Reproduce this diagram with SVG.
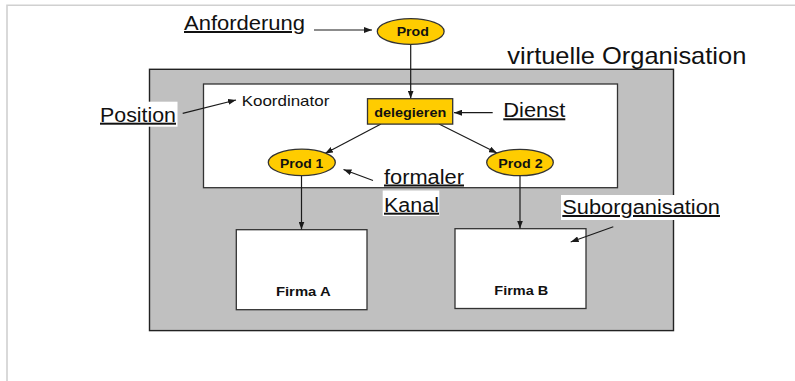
<svg xmlns="http://www.w3.org/2000/svg" width="795" height="381" viewBox="0 0 795 381">
<defs>
<marker id="ah" viewBox="0 0 8 6" refX="8" refY="3" markerWidth="8" markerHeight="6" orient="auto" markerUnits="userSpaceOnUse">
<path d="M0,0 L8,3 L0,6 z" fill="#1a1a1a"/>
</marker>
<style>
.lbl{font-family:"Liberation Sans",Arial,sans-serif;font-size:20px;fill:#111;text-decoration:underline}
.bold{font-family:"Liberation Sans",Arial,sans-serif;font-size:13px;font-weight:bold;fill:#111;text-anchor:middle}
.plain{font-family:"Liberation Sans",Arial,sans-serif;fill:#111}
.yel{fill:#FFCC00;stroke:#333;stroke-width:1.3}
.box{fill:#fff;stroke:#333;stroke-width:1.3}
.conn line{stroke:#1a1a1a;stroke-width:1.2;marker-end:url(#ah)}
.bg{fill:#fff}
</style>
</defs>
<rect width="795" height="381" fill="#fff"/>
<path d="M7,381 V5.3 H795" fill="none" stroke="#d0d0d0" stroke-width="1.6"/>

<g id="virtuelle-organisation">
<rect x="149.5" y="69.3" width="524" height="261.3" fill="#C0C0C0" stroke="#222" stroke-width="1.4"/>
<text class="plain" x="507.3" y="64" font-size="24" textLength="239" lengthAdjust="spacingAndGlyphs">virtuelle Organisation</text>
</g>

<g id="koordinator">
<rect class="box" x="203.5" y="84" width="414" height="103.7"/>
<text class="plain" x="241.7" y="106" font-size="15" textLength="87.6" lengthAdjust="spacingAndGlyphs">Koordinator</text>
</g>

<g id="firma-a">
<rect class="box" x="236.3" y="229.7" width="130.7" height="80"/>
<text class="bold" x="303.3" y="296" textLength="54.7" lengthAdjust="spacingAndGlyphs">Firma A</text>
</g>

<g id="firma-b">
<rect class="box" x="455" y="228.7" width="131" height="79.8"/>
<text class="bold" x="521.3" y="295" textLength="54" lengthAdjust="spacingAndGlyphs">Firma B</text>
</g>

<g id="connectors" class="conn">
<line x1="314" y1="30" x2="372" y2="30"/>
<line x1="410.7" y1="44.5" x2="410.7" y2="98.5"/>
<line x1="182.7" y1="113.3" x2="236" y2="100"/>
<line x1="492.7" y1="112.7" x2="454" y2="112.7"/>
<line x1="381" y1="124" x2="325" y2="153.5"/>
<line x1="439" y1="124" x2="497" y2="153"/>
<line x1="373" y1="180.5" x2="343.5" y2="169.5"/>
<line x1="301.5" y1="175.5" x2="301.5" y2="229.5"/>
<line x1="520" y1="175.5" x2="520" y2="228.5"/>
<line x1="613.3" y1="226.7" x2="570.7" y2="242"/>
</g>

<g id="prod">
<ellipse class="yel" cx="410.7" cy="31.5" rx="33.4" ry="12.8"/>
<text class="bold" x="412.8" y="35.7" textLength="32.3" lengthAdjust="spacingAndGlyphs">Prod</text>
</g>

<g id="delegieren">
<rect class="yel" x="367.5" y="98.7" width="85.2" height="25.4"/>
<text class="bold" x="410.2" y="116.5" textLength="72" lengthAdjust="spacingAndGlyphs">delegieren</text>
</g>

<g id="prod1">
<ellipse class="yel" cx="301.8" cy="162.4" rx="33.5" ry="13.2"/>
<text class="bold" x="301.7" y="167.5" textLength="43.3" lengthAdjust="spacingAndGlyphs">Prod 1</text>
</g>

<g id="prod2">
<ellipse class="yel" cx="520" cy="162.5" rx="33.3" ry="13.2"/>
<text class="bold" x="520.5" y="167.5" textLength="44.4" lengthAdjust="spacingAndGlyphs">Prod 2</text>
</g>

<g id="label-anforderung">
<text class="lbl" x="184" y="30" textLength="121" lengthAdjust="spacingAndGlyphs">Anforderung</text>
</g>

<g id="label-position">
<rect class="bg" x="97.5" y="101.7" width="80" height="25"/>
<text class="lbl" x="100" y="121.7" textLength="76" lengthAdjust="spacingAndGlyphs">Position</text>
</g>

<g id="label-dienst">
<text class="lbl" x="503.3" y="117.3" textLength="62" lengthAdjust="spacingAndGlyphs">Dienst</text>
</g>

<g id="label-formaler-kanal">
<text class="lbl" x="384" y="183.5" textLength="80" lengthAdjust="spacingAndGlyphs">formaler</text>
<rect class="bg" x="382.7" y="190.5" width="56.6" height="25.5"/>
<text class="lbl" x="384" y="211.7" textLength="55" lengthAdjust="spacingAndGlyphs">Kanal</text>
</g>

<g id="label-suborganisation">
<rect class="bg" x="561" y="195" width="159.7" height="25"/>
<text class="lbl" x="562.3" y="214" textLength="157.7" lengthAdjust="spacingAndGlyphs">Suborganisation</text>
</g>
</svg>
